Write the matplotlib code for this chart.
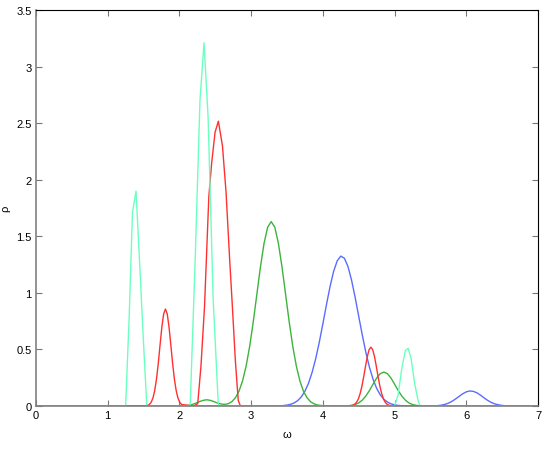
import matplotlib
matplotlib.use("Agg")
import matplotlib.pyplot as plt

# ---- data ----
blue_x = [0.0, 3.40, 3.45, 3.50, 3.55, 3.60, 3.65, 3.70, 3.75, 3.80, 3.85, 3.90, 3.95, 4.00, 4.05, 4.10, 4.15,
          4.20, 4.25, 4.30, 4.35, 4.40, 4.45, 4.50, 4.55, 4.60, 4.65, 4.70, 4.75, 4.80, 4.85, 4.90, 4.95,
          5.00, 5.05, 5.10, 5.15, 5.20,
          5.50, 5.55, 5.60, 5.65, 5.70, 5.75, 5.80, 5.85, 5.90, 5.95, 6.00, 6.05, 6.10, 6.15, 6.20, 6.25,
          6.30, 6.35, 6.40, 6.45, 6.50, 6.55, 6.60, 6.65, 7.0]
blue_y = [0.0, 0.0, 0.004, 0.008, 0.015, 0.027, 0.048, 0.081, 0.131, 0.201, 0.297, 0.418, 0.563, 0.726, 0.895, 1.055, 1.190,
          1.283, 1.325, 1.306, 1.233, 1.113, 0.961, 0.793, 0.627, 0.473, 0.342, 0.236, 0.156, 0.099, 0.060, 0.035, 0.019,
          0.010, 0.005, 0.002, 0.001, 0.0,
          0.0, 0.0015, 0.003, 0.007, 0.014, 0.025, 0.041, 0.062, 0.085, 0.108, 0.125, 0.133, 0.129, 0.116, 0.095, 0.071,
          0.049, 0.031, 0.018, 0.010, 0.005, 0.002, 0.001, 0.0, 0.0]

green_x = [0.0, 1.98, 2.03, 2.08, 2.13, 2.18, 2.23, 2.28, 2.33, 2.38, 2.43, 2.48, 2.53, 2.58, 2.63, 2.68, 2.73,
           2.78, 2.83, 2.88, 2.93, 2.98, 3.03, 3.08, 3.13, 3.18, 3.23, 3.28, 3.33, 3.38, 3.43, 3.48, 3.53,
           3.58, 3.63, 3.68, 3.73, 3.78, 3.83, 3.88, 3.93, 3.98, 4.03, 4.08,
           4.30, 4.35, 4.40, 4.45, 4.50, 4.55, 4.60, 4.65, 4.70, 4.75, 4.80, 4.85, 4.90, 4.95, 5.00, 5.05,
           5.10, 5.15, 5.20, 5.25, 5.30, 5.35, 5.40, 5.45, 7.0]
green_y = [0.0, 0.0, 0.001, 0.002, 0.006, 0.014, 0.025, 0.039, 0.050, 0.055, 0.050, 0.039, 0.026, 0.018, 0.014, 0.020, 0.038,
           0.072, 0.130, 0.221, 0.353, 0.529, 0.746, 0.989, 1.230, 1.438, 1.580, 1.630, 1.580, 1.438, 1.230, 0.989, 0.746,
           0.529, 0.353, 0.221, 0.130, 0.072, 0.037, 0.018, 0.008, 0.004, 0.0014, 0.0,
           0.001, 0.002, 0.006, 0.013, 0.027, 0.052, 0.089, 0.137, 0.193, 0.247, 0.286, 0.300, 0.286, 0.247, 0.193, 0.137,
           0.089, 0.052, 0.027, 0.013, 0.006, 0.002, 0.001, 0.0, 0.0]

red_x = [0.0, 1.53, 1.555, 1.58, 1.605, 1.63, 1.655, 1.68, 1.705, 1.73, 1.755, 1.78, 1.805, 1.83, 1.855, 1.88,
         1.905, 1.93, 1.955, 1.98, 2.005, 2.03,
         2.20, 2.255, 2.30, 2.35, 2.41, 2.45, 2.497, 2.543, 2.60, 2.65, 2.70, 2.74, 2.78, 2.82, 2.85,
         4.37, 4.395, 4.42, 4.445, 4.47, 4.495, 4.52, 4.545, 4.57, 4.595, 4.62, 4.645, 4.67, 4.695, 4.72,
         4.745, 4.77, 4.795, 4.82, 4.845, 4.87, 4.895, 4.92, 4.945, 4.97, 5.0, 7.0]
red_y = [0.0, 0.002, 0.005, 0.013, 0.032, 0.069, 0.135, 0.237, 0.377, 0.540, 0.698, 0.814, 0.857, 0.814, 0.698, 0.540,
         0.377, 0.237, 0.135, 0.069, 0.032, 0.013,
         0.0, 0.02, 0.35, 0.88, 1.85, 2.15, 2.42, 2.517, 2.30, 1.89, 1.30, 0.86, 0.40, 0.05, 0.0,
         0.001, 0.003, 0.007, 0.016, 0.033, 0.062, 0.110, 0.176, 0.260, 0.352, 0.437, 0.498, 0.520, 0.498, 0.437,
         0.352, 0.260, 0.176, 0.110, 0.062, 0.033, 0.016, 0.007, 0.003, 0.001, 0.0, 0.0]

cyan_x = [0.0, 1.25, 1.30, 1.345, 1.395, 1.45, 1.50, 1.545,
          2.15, 2.22, 2.287, 2.343, 2.40, 2.47, 2.543,
          5.0, 5.05, 5.10, 5.15, 5.19, 5.23, 5.28, 5.33, 5.36, 7.0]
cyan_y = [0.0, 0.0, 0.8, 1.71, 1.90, 1.2, 0.55, 0.0,
          0.0, 1.3, 2.71, 3.21, 2.55, 0.95, 0.0,
          0.0, 0.1, 0.33, 0.49, 0.51, 0.42, 0.2, 0.04, 0.0, 0.0]

x_ticks = [0, 1, 2, 3, 4, 5, 6, 7]
x_tick_labels = ["0", "1", "2", "3", "4", "5", "6", "7"]
y_ticks = [0, 0.5, 1, 1.5, 2, 2.5, 3, 3.5]
y_tick_labels = ["0", "0.5", "1", "1.5", "2", "2.5", "3", "3.5"]

plt.rcParams['font.family'] = ['Liberation Sans', 'DejaVu Sans']

fig = plt.figure(figsize=(5.45, 4.52), dpi=100)
ax = fig.add_axes([36 / 545, 45 / 452, 502 / 545, 396 / 452])

lw = 1.0
ax.plot(blue_x, blue_y, color='#5a6cff', lw=lw)
ax.plot(green_x, green_y, color='#3cb43c', lw=lw)
ax.plot(red_x, red_y, color='#ff3030', lw=lw)
ax.plot(cyan_x, cyan_y, color='#6cffc0', lw=lw)

ax.set_xlim(0, 7)
ax.set_ylim(0, 3.5)
ax.set_xticks(x_ticks)
ax.set_xticklabels(x_tick_labels)
ax.set_yticks(y_ticks)
ax.set_yticklabels(y_tick_labels)
ax.tick_params(direction='in', length=4, width=0.8, labelsize=8, colors='#777777',
               labelcolor='black', pad=3, top=True, right=True)

for side in ['left', 'bottom']:
    ax.spines[side].set_color('#808080')
    ax.spines[side].set_linewidth(1.2)
for side in ['top', 'right']:
    ax.spines[side].set_color('black')
    ax.spines[side].set_linewidth(0.8)

ax.set_xlabel('ω', fontsize=8)
ax.set_ylabel('ρ', fontsize=8)
ax.xaxis.set_label_coords(0.5, -0.058)
ax.yaxis.set_label_coords(-0.052, 0.5)

fig.savefig('out.png', dpi=100)
